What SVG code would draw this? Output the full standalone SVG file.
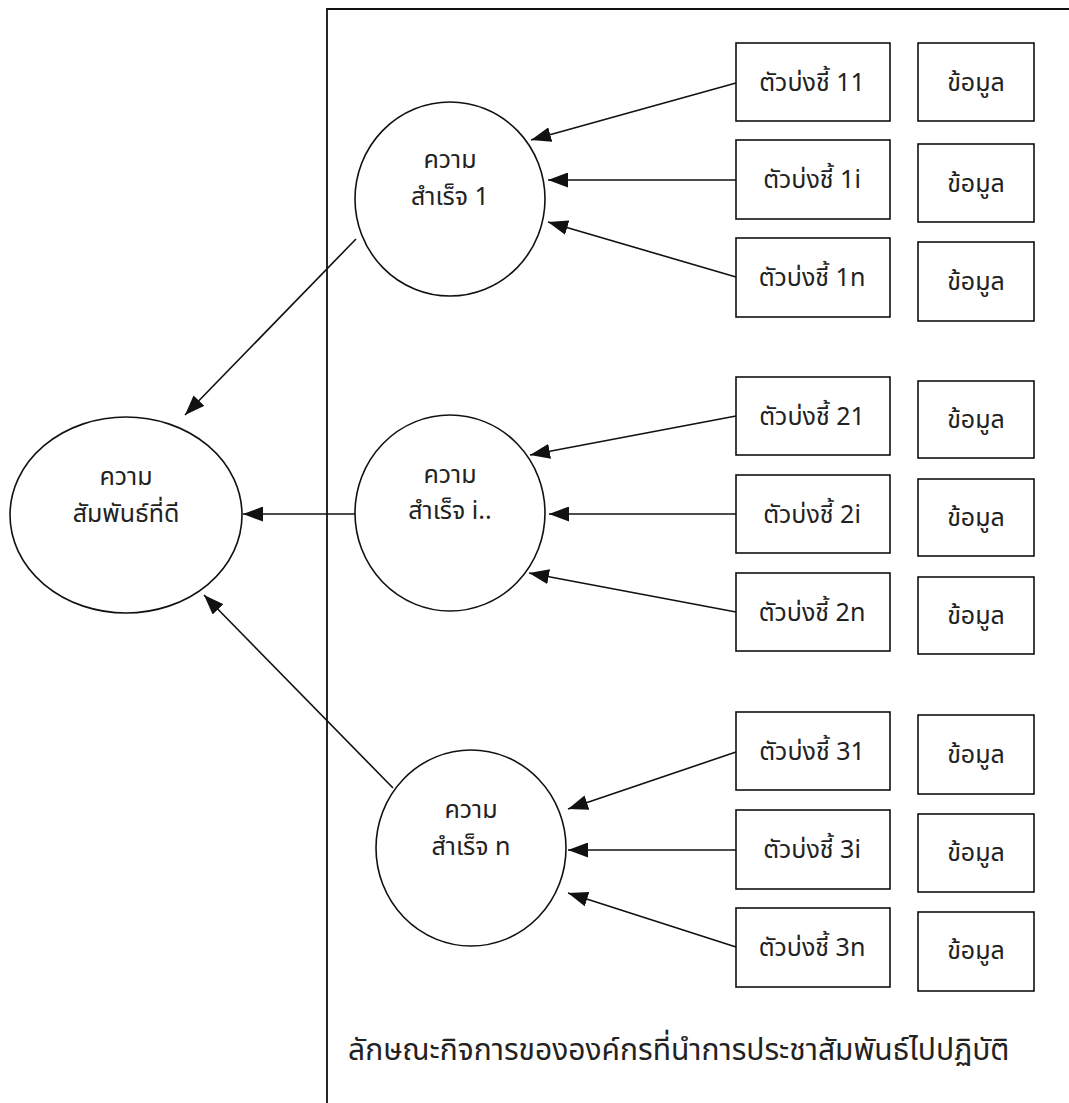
<svg xmlns="http://www.w3.org/2000/svg" width="1069" height="1103" viewBox="0 0 1069 1103">
<defs>
<style>
.n{fill:#fff;stroke:#111;stroke-width:1.6}
.t{font-family:"Noto Sans Thai","Noto Sans","DejaVu Sans",sans-serif;font-size:25px;fill:#222;text-anchor:middle}
.c{stroke:#111;stroke-width:1.6;fill:none;marker-end:url(#ah)}
.f{stroke:#111;stroke-width:1.8;fill:none}
</style>
<marker id="ah" viewBox="0 0 20 15" refX="20" refY="7.5" markerWidth="20" markerHeight="15" markerUnits="userSpaceOnUse" orient="auto">
<path d="M0,0 L20,7.5 L0,15 z" fill="#111"/>
</marker>
</defs>
<rect width="1069" height="1103" fill="#fff"/>
<g id="frame"><path class="f" d="M327,1103 L327,9 L1069,9"/></g>
<g id="connectors">
<line class="c" x1="736" y1="83" x2="531" y2="140"/>
<line class="c" x1="736" y1="180" x2="548" y2="180"/>
<line class="c" x1="736" y1="277" x2="548" y2="222"/>
<line class="c" x1="356" y1="239" x2="185" y2="415"/>
<line class="c" x1="355" y1="514" x2="243" y2="514"/>
<line class="c" x1="393" y1="788" x2="204" y2="595"/>
<line class="c" x1="736" y1="416" x2="530" y2="455"/>
<line class="c" x1="736" y1="514" x2="549" y2="514"/>
<line class="c" x1="736" y1="612" x2="529" y2="573"/>
<line class="c" x1="736" y1="752" x2="568" y2="809"/>
<line class="c" x1="736" y1="850" x2="568" y2="850"/>
<line class="c" x1="736" y1="947" x2="568" y2="893"/>
</g>
<g id="good"><ellipse class="n" cx="126" cy="515" rx="116" ry="98"/><text class="t" x="126" y="485">ความ</text><text class="t" x="126" y="522">สัมพันธ์ที่ดี</text></g>
<g id="s1"><ellipse class="n" cx="450" cy="199" rx="95" ry="97"/><text class="t" x="450" y="168">ความ</text><text class="t" x="450" y="205">สำเร็จ 1</text></g>
<g id="si"><ellipse class="n" cx="450" cy="513" rx="95" ry="98"/><text class="t" x="450" y="483">ความ</text><text class="t" x="450" y="519">สำเร็จ i..</text></g>
<g id="sn"><ellipse class="n" cx="471" cy="848" rx="95" ry="98"/><text class="t" x="471" y="818">ความ</text><text class="t" x="471" y="855">สำเร็จ n</text></g>
<g id="k11"><rect class="n" x="736" y="43" width="154" height="78"/><text class="t" x="812" y="91">ตัวบ่งชี้ 11</text></g>
<g id="k1i"><rect class="n" x="736" y="140" width="154" height="79"/><text class="t" x="812" y="188">ตัวบ่งชี้ 1i</text></g>
<g id="k1n"><rect class="n" x="736" y="238" width="154" height="79"/><text class="t" x="812" y="286">ตัวบ่งชี้ 1n</text></g>
<g id="k21"><rect class="n" x="736" y="377" width="154" height="78"/><text class="t" x="812" y="425">ตัวบ่งชี้ 21</text></g>
<g id="k2i"><rect class="n" x="736" y="475" width="154" height="78"/><text class="t" x="812" y="523">ตัวบ่งชี้ 2i</text></g>
<g id="k2n"><rect class="n" x="736" y="573" width="154" height="78"/><text class="t" x="812" y="621">ตัวบ่งชี้ 2n</text></g>
<g id="k31"><rect class="n" x="736" y="712" width="154" height="78"/><text class="t" x="812" y="760">ตัวบ่งชี้ 31</text></g>
<g id="k3i"><rect class="n" x="736" y="810" width="154" height="79"/><text class="t" x="812" y="858">ตัวบ่งชี้ 3i</text></g>
<g id="k3n"><rect class="n" x="736" y="908" width="154" height="79"/><text class="t" x="812" y="956">ตัวบ่งชี้ 3n</text></g>
<g id="d11"><rect class="n" x="918" y="43" width="116" height="78"/><text class="t" x="976" y="91">ข้อมูล</text></g>
<g id="d1i"><rect class="n" x="918" y="144" width="116" height="78"/><text class="t" x="976" y="192">ข้อมูล</text></g>
<g id="d1n"><rect class="n" x="918" y="242" width="116" height="79"/><text class="t" x="976" y="290">ข้อมูล</text></g>
<g id="d21"><rect class="n" x="918" y="381" width="116" height="77"/><text class="t" x="976" y="428">ข้อมูล</text></g>
<g id="d2i"><rect class="n" x="918" y="479" width="116" height="77"/><text class="t" x="976" y="526">ข้อมูล</text></g>
<g id="d2n"><rect class="n" x="918" y="577" width="116" height="77"/><text class="t" x="976" y="624">ข้อมูล</text></g>
<g id="d31"><rect class="n" x="918" y="715" width="116" height="79"/><text class="t" x="976" y="763">ข้อมูล</text></g>
<g id="d3i"><rect class="n" x="918" y="814" width="116" height="78"/><text class="t" x="976" y="861">ข้อมูล</text></g>
<g id="d3n"><rect class="n" x="918" y="912" width="116" height="79"/><text class="t" x="976" y="959">ข้อมูล</text></g>
<text class="t" x="348" y="1060" style="text-anchor:start;font-size:30px">ลักษณะกิจการขององค์กรที่นำการประชาสัมพันธ์ไปปฏิบัติ</text>
</svg>
